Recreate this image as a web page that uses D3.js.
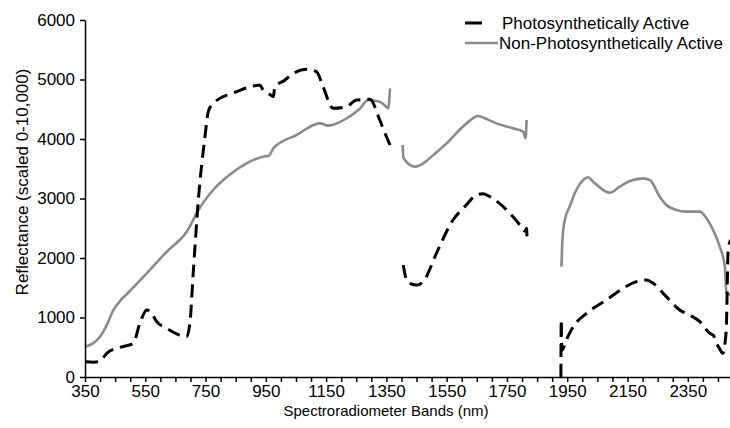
<!DOCTYPE html>
<html>
<head>
<meta charset="utf-8">
<script src="https://cdn.jsdelivr.net/npm/d3@7"></script>
<style>
  body { margin: 0; background: #fff; }
  text { font-family: "Liberation Sans", Arial, sans-serif; }
</style>
</head>
<body>
<script>
// wavelength (nm) / reflectance pairs, null = gap in the record
let paNm = [350, 380, 400, 422, 466, 510, 532, 555, 571, 588, 620, 654, 687, 698, 709, 726, 748, 759, 775, 853, 900, 930, 941, 960, 975, 980, 1010, 1041, 1085, 1118, 1140, 1173, 1218, 1251, 1295, 1328, 1350, 1362,
  null,
  1406, 1417, 1430, 1450, 1472, 1516, 1571, 1610, 1649, 1670, 1693, 1760, 1793, 1810, 1815, 1817,
  null,
  1929, 1930, 1932, 1947, 1970, 2014, 2080, 2135, 2180, 2213, 2235, 2279, 2323, 2356, 2390, 2423, 2435, 2445, 2455, 2467, 2474, 2478, 2484, 2492]
let paVal = [257, 250, 270, 398, 499, 566, 902, 1126, 1070, 930, 820, 723, 677, 902, 1743, 2975, 4039, 4459, 4599, 4795, 4880, 4907, 4823, 4760, 4711, 4879, 4980, 5103, 5171, 5131, 4879, 4515, 4543, 4655, 4667, 4319, 4039, 3899,
  null,
  1882, 1630, 1570, 1546, 1602, 2079, 2639, 2863, 3059, 3080, 3031, 2750, 2555, 2450, 2500, 2270,
  null,
  0, 960, 450, 622, 846, 1070, 1294, 1490, 1602, 1630, 1574, 1350, 1126, 1042, 930, 734, 700, 566, 480, 398, 600, 846, 2134, 2300]

let npaNm = [350, 375, 400, 420, 444, 470, 500, 555, 620, 687, 700, 720, 775, 830, 886, 941, 960, 975, 1052, 1129, 1157, 1218, 1260, 1290, 1328, 1350, 1356, 1362,
  null,
  1404, 1406, 1411, 1445, 1472, 1510, 1550, 1616, 1655, 1680, 1715, 1771, 1804, 1812, 1815,
  null,
  1931, 1934, 1942, 1958, 1980, 2003, 2019, 2036, 2069, 2091, 2124, 2158, 2202, 2224, 2257, 2279, 2312, 2345, 2390, 2412, 2434, 2456, 2473, 2478, 2495]
let npaVal = [510, 560, 677, 850, 1126, 1300, 1450, 1743, 2100, 2442, 2550, 2750, 3143, 3400, 3591, 3703, 3720, 3843, 4067, 4263, 4224, 4346, 4500, 4655, 4627, 4540, 4515, 4851,
  null,
  3899, 3700, 3647, 3535, 3591, 3750, 3927, 4263, 4387, 4340, 4263, 4179, 4123, 4011, 4319,
  null,
  1854, 2303, 2639, 2863, 3143, 3311, 3356, 3283, 3143, 3098, 3199, 3294, 3339, 3311, 3031, 2891, 2807, 2779, 2779, 2667, 2471, 2191, 1854, 1406, 1380]

let yTicks = [0, 1000, 2000, 3000, 4000, 5000, 6000]
let xLabels = [350, 550, 750, 950, 1150, 1350, 1550, 1750, 1950, 2150, 2350]
let legendNames = ["Photosynthetically Active", "Non-Photosynthetically Active"]

let w = 730, h = 428

let svg = d3.select("body").append("svg").attr("width", w).attr("height", h)

let x = d3.scaleLinear().domain([350, 2500]).range([85, 733])
let y = d3.scaleLinear().domain([0, 6000]).range([377, 20])

let line = d3.line()
  .defined(d => d[0] !== null)
  .x(d => x(d[0]))
  .y(d => y(d[1]))
  .curve(d3.curveMonotoneX)

let npa = npaNm.map((n, i) => [n, npaVal[i]])
let pa = paNm.map((n, i) => [n, paVal[i]])

svg.append("path").datum(npa)
  .attr("d", line)
  .attr("fill", "none")
  .attr("stroke", "#8a8a8a")
  .attr("stroke-width", 2.6)

svg.append("path").datum(pa)
  .attr("d", line)
  .attr("fill", "none")
  .attr("stroke", "#000")
  .attr("stroke-width", 3)
  .attr("stroke-dasharray", "13,7")

// axes
let xAxis = d3.axisBottom(x)
  .tickValues(d3.range(350, 2500, 50))
  .tickFormat(d => xLabels.includes(d) ? d : "")
  .tickSize(5).tickSizeOuter(0).tickPadding(3)

let gx = svg.append("g").attr("transform", "translate(0," + y(0) + ")").call(xAxis)
gx.selectAll("text").attr("font-size", 17).attr("fill", "#000").attr("font-family", "Liberation Sans, Arial, sans-serif")

let yAxis = d3.axisLeft(y).tickValues(yTicks).tickFormat(d3.format("d"))
  .tickSize(5).tickSizeOuter(0).tickPadding(5)
let gy = svg.append("g").attr("transform", "translate(" + x(350) + ",0)").call(yAxis)
gy.selectAll("text").attr("font-size", 17).attr("fill", "#000").attr("font-family", "Liberation Sans, Arial, sans-serif")

svg.selectAll(".domain, .tick line").attr("stroke", "#000").attr("stroke-width", 1.5)

svg.append("text")
  .attr("x", 386).attr("y", 416)
  .attr("text-anchor", "middle")
  .attr("font-size", 15)
  .text("Spectroradiometer Bands (nm)")

svg.append("text")
  .attr("transform", "translate(28,182) rotate(-90)")
  .attr("text-anchor", "middle")
  .attr("font-size", 17)
  .text("Reflectance (scaled 0-10,000)")

// legend
svg.append("line").attr("x1", 465).attr("x2", 482).attr("y1", 23).attr("y2", 23)
  .attr("stroke", "#000").attr("stroke-width", 3)
svg.append("text").attr("x", 502).attr("y", 29).attr("font-size", 17).text(legendNames[0])

svg.append("line").attr("x1", 465).attr("x2", 498).attr("y1", 43).attr("y2", 43)
  .attr("stroke", "#8a8a8a").attr("stroke-width", 2.6)
svg.append("text").attr("x", 499).attr("y", 49).attr("font-size", 17).text(legendNames[1])
</script>
</body>
</html>
